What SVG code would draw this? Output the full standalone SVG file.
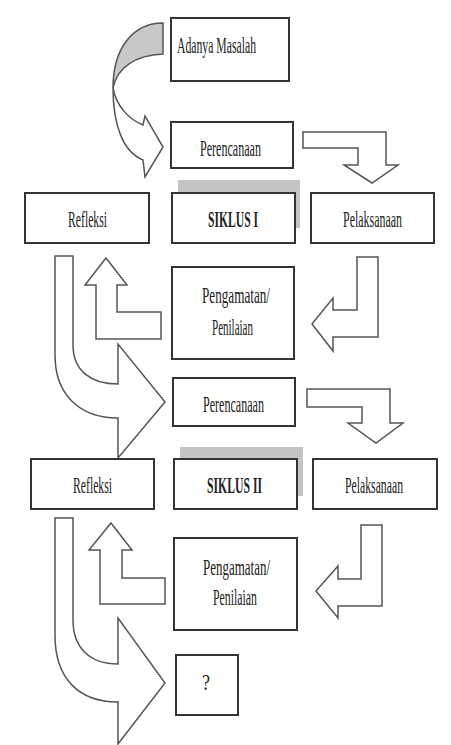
<svg xmlns="http://www.w3.org/2000/svg" width="451" height="745" viewBox="0 0 451 745">
<style>
.box{fill:#fff;stroke:#333;stroke-width:2}
.shadow{fill:#c4c4c4}
.arr{fill:#fff;stroke:#555;stroke-width:1.5;stroke-linejoin:miter}
.t{font-family:"Liberation Serif",serif;font-size:24px;fill:#222;text-anchor:middle}
.b{font-weight:bold}
</style>
<rect width="451" height="745" fill="#fff"/>
<g id="connectors">
<path class="arr" d="M163,23 C133,23 113,48 113,88 C117,68 135,55 163,54 Z" style="fill:#c8c8c8"/>
<path class="arr" d="M113,88 C116,105 128,119 143,125 L145,116 L163,147 L145,177 L143,160 C123,152 113,125 113,88 Z"/>
<path class="arr" d="M303,132 L386,132 L386,165 L398,165 L372,183 L344,165 L358,165 L358,148 L303,148 Z"/>
<path class="arr" d="M378,257 L378,337 L333,337 L333,351 L312,324 L333,298 L333,310 L357,310 L357,257 Z"/>
<path class="arr" d="M161,312 L161,339 L96,339 L96,285 L85,285 L106,258 L127,285 L117,285 L117,312 Z"/>
<path class="arr" d="M55,256 L73,256 L73,345 C73,370 90,384 118,384 L118,344 L165,402 L118,458 L118,418 C80,418 55,395 55,355 Z"/>
<path class="arr" d="M307,389 L390,389 L390,423 L403,423 L376,443 L348,423 L362,423 L362,407 L307,407 Z"/>
<path class="arr" d="M382,525 L382,606 L338,606 L338,618 L316,591 L338,566 L338,579 L361,579 L361,525 Z"/>
<path class="arr" d="M165,578 L165,604 L100,604 L100,550 L89,550 L111,523 L132,550 L122,550 L122,578 Z"/>
<path class="arr" d="M55,518 L73,518 L73,620 C73,648 90,664 118,664 L118,618 L165,683 L118,744 L118,702 C80,702 55,680 55,635 Z"/>
</g>
<g id="adanya">
<rect class="box" x="171" y="18" width="118" height="63"/>
<text class="t" transform="translate(216.5,53) scale(0.5,1)" textLength="158" lengthAdjust="spacingAndGlyphs">Adanya Masalah</text>
</g>
<g id="perencanaan1">
<rect class="box" x="171" y="122" width="122" height="46"/>
<text class="t" transform="translate(230.5,156) scale(0.5,1)" textLength="122" lengthAdjust="spacingAndGlyphs">Perencanaan</text>
</g>
<g id="refleksi1">
<rect class="box" x="25" y="193" width="124" height="50"/>
<text class="t" transform="translate(87.5,227) scale(0.5,1)" textLength="78" lengthAdjust="spacingAndGlyphs">Refleksi</text>
</g>
<g id="siklus1">
<rect class="shadow" x="178" y="180" width="122" height="48"/>
<rect class="box" x="172" y="193" width="123" height="50"/>
<text class="t b" transform="translate(233,227) scale(0.5,1)" textLength="100" lengthAdjust="spacingAndGlyphs">SIKLUS I</text>
</g>
<g id="pelaksanaan1">
<rect class="box" x="311" y="193" width="123" height="50"/>
<text class="t" transform="translate(372.5,227) scale(0.5,1)" textLength="118" lengthAdjust="spacingAndGlyphs">Pelaksanaan</text>
</g>
<g id="pengamatan1">
<rect class="box" x="172" y="267" width="122" height="92"/>
<text class="t" transform="translate(236,303) scale(0.5,1)" textLength="136" lengthAdjust="spacingAndGlyphs">Pengamatan/</text>
<text class="t" transform="translate(232.5,335) scale(0.5,1)" textLength="82" lengthAdjust="spacingAndGlyphs">Penilaian</text>
</g>
<g id="perencanaan2">
<rect class="box" x="173" y="378" width="122" height="48"/>
<text class="t" transform="translate(233.5,412) scale(0.5,1)" textLength="122" lengthAdjust="spacingAndGlyphs">Perencanaan</text>
</g>
<g id="refleksi2">
<rect class="box" x="31" y="459" width="123" height="50"/>
<text class="t" transform="translate(92.5,493) scale(0.5,1)" textLength="78" lengthAdjust="spacingAndGlyphs">Refleksi</text>
</g>
<g id="siklus2">
<rect class="shadow" x="180" y="447" width="123" height="49"/>
<rect class="box" x="174" y="459" width="123" height="50"/>
<text class="t b" transform="translate(234.5,493) scale(0.5,1)" textLength="110" lengthAdjust="spacingAndGlyphs">SIKLUS II</text>
</g>
<g id="pelaksanaan2">
<rect class="box" x="313" y="459" width="124" height="50"/>
<text class="t" transform="translate(374,493) scale(0.5,1)" textLength="116" lengthAdjust="spacingAndGlyphs">Pelaksanaan</text>
</g>
<g id="pengamatan2">
<rect class="box" x="174" y="538" width="123" height="92"/>
<text class="t" transform="translate(236.5,575) scale(0.5,1)" textLength="134" lengthAdjust="spacingAndGlyphs">Pengamatan/</text>
<text class="t" transform="translate(235,605) scale(0.5,1)" textLength="88" lengthAdjust="spacingAndGlyphs">Penilaian</text>
</g>
<g id="tanya">
<rect class="box" x="176" y="655" width="62" height="60"/>
<text class="t" transform="translate(206,690) scale(0.5,1)" textLength="16" lengthAdjust="spacingAndGlyphs">?</text>
</g>
</svg>
